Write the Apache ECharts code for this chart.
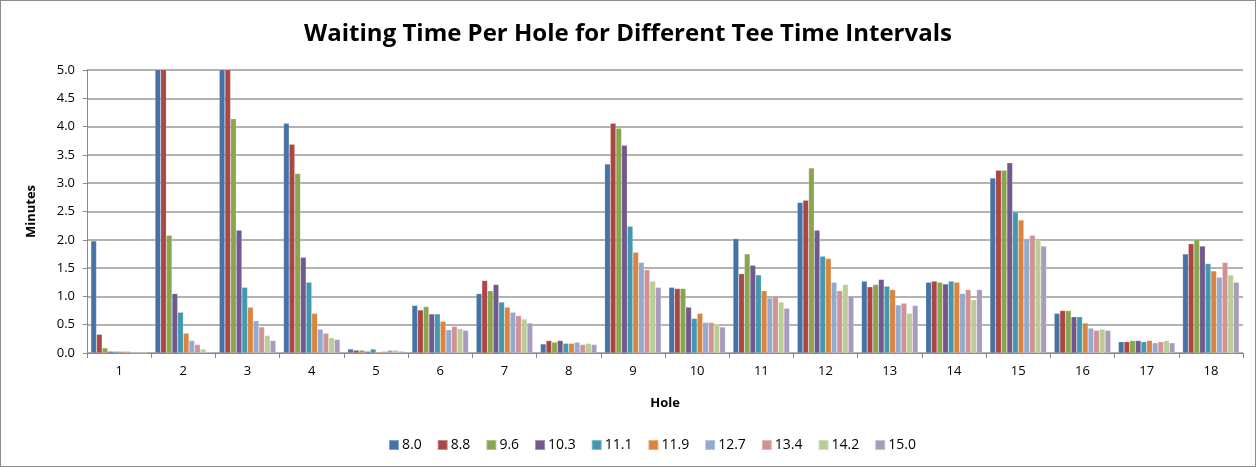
<!DOCTYPE html>
<html>
<head>
<meta charset="utf-8">
<script src="https://cdn.jsdelivr.net/npm/echarts@6/dist/echarts.min.js"></script>
<style>
html,body{margin:0;padding:0;background:#fff;}
#frame{position:absolute;left:0;top:0;width:1254px;height:465px;border:1px solid #8c8c8c;}
#chart{width:1256px;height:467px;position:absolute;left:0;top:0;}
</style>
</head>
<body>
<div id="frame"></div>
<div id="chart"></div>
<script>
const holes = ['1','2','3','4','5','6','7','8','9','10','11','12','13','14','15','16','17','18'];
const seriesNames = ['8.0','8.8','9.6','10.3','11.1','11.9','12.7','13.4','14.2','15.0'];
const yTicks = ['0.0','0.5','1.0','1.5','2.0','2.5','3.0','3.5','4.0','4.5','5.0'];
// values per tee-time interval (minutes), one entry per hole
const s80  = [1.98, 6.50, 6.50, 4.06, 0.07, 0.84, 1.05, 0.16, 3.34, 1.16, 2.02, 2.66, 1.27, 1.25, 3.09, 0.70, 0.20, 1.75];
const s88  = [0.33, 6.50, 6.50, 3.69, 0.05, 0.76, 1.28, 0.22, 4.06, 1.14, 1.40, 2.70, 1.17, 1.27, 3.23, 0.75, 0.20, 1.93];
const s96  = [0.09, 2.08, 4.14, 3.17, 0.05, 0.82, 1.10, 0.19, 3.97, 1.14, 1.75, 3.27, 1.21, 1.25, 3.23, 0.75, 0.22, 2.01];
const s103 = [0.03, 1.05, 2.17, 1.69, 0.03, 0.69, 1.21, 0.22, 3.67, 0.81, 1.55, 2.17, 1.30, 1.22, 3.36, 0.64, 0.22, 1.89];
const s111 = [0.03, 0.72, 1.16, 1.25, 0.07, 0.69, 0.90, 0.17, 2.24, 0.61, 1.38, 1.71, 1.18, 1.27, 2.49, 0.64, 0.20, 1.58];
const s119 = [0.03, 0.35, 0.81, 0.70, 0.02, 0.56, 0.81, 0.17, 1.78, 0.70, 1.10, 1.67, 1.12, 1.25, 2.35, 0.53, 0.22, 1.45];
const s127 = [0.03, 0.22, 0.57, 0.42, 0.03, 0.41, 0.72, 0.19, 1.60, 0.54, 0.97, 1.25, 0.85, 1.05, 2.02, 0.44, 0.18, 1.34];
const s134 = [0.00, 0.15, 0.46, 0.35, 0.05, 0.47, 0.66, 0.15, 1.47, 0.54, 1.01, 1.10, 0.88, 1.12, 2.08, 0.40, 0.20, 1.60];
const s142 = [0.00, 0.07, 0.31, 0.27, 0.05, 0.43, 0.60, 0.17, 1.27, 0.51, 0.90, 1.21, 0.70, 0.94, 2.00, 0.42, 0.22, 1.38];
const s150 = [0.00, 0.02, 0.22, 0.24, 0.03, 0.40, 0.53, 0.15, 1.16, 0.46, 0.79, 1.01, 0.84, 1.12, 1.89, 0.40, 0.18, 1.25];
const allValues = [s80, s88, s96, s103, s111, s119, s127, s134, s142, s150];
const colors = ['#4572A7','#AA4643','#89A54E','#71588F','#4198AF','#DB843D','#93A9CF','#D19392','#B9CD96','#A99BBD'];

const chart = echarts.init(document.getElementById('chart'), null, {renderer:'canvas'});
const font = 'Open Sans, Liberation Sans, sans-serif';
chart.setOption({
  animation:false,
  backgroundColor:'transparent',
  color: colors,
  title:{
    text:'Waiting Time Per Hole for Different Tee Time Intervals',
    left:'center', top:17,
    textStyle:{fontFamily:font, fontSize:24, fontWeight:'bold', color:'#000'}
  },
  legend:{
    data: seriesNames,
    bottom:10, left:383,
    itemWidth:10, itemHeight:10, itemGap:15, icon:'rect',
    textStyle:{fontFamily:font, fontSize:14, color:'#000', padding:[0,0,0,-2]}
  },
  grid:{left:87, right:13, top:70, bottom:114, containLabel:false},
  xAxis:{
    type:'category', data:holes, name:'Hole', nameLocation:'middle', nameGap:44,
    nameTextStyle:{fontFamily:font, fontSize:13, fontWeight:'bold', color:'#000'},
    axisLine:{lineStyle:{color:'#888', width:1}},
    axisTick:{show:true, alignWithLabel:false, length:5, lineStyle:{color:'#888'}},
    axisLabel:{fontFamily:font, fontSize:13, color:'#000', margin:12},
  },
  yAxis:{
    type:'value', min:0, max:5, interval:0.5, name:'Minutes', nameLocation:'middle', nameGap:49,
    nameRotate:90,
    nameTextStyle:{fontFamily:font, fontSize:13, fontWeight:'bold', color:'#000'},
    axisLine:{show:true, lineStyle:{color:'#888', width:1}},
    axisTick:{show:true, length:4, lineStyle:{color:'#888'}},
    axisLabel:{fontFamily:font, fontSize:13, color:'#000', margin:12,
      formatter:(v)=> yTicks[Math.round(v/0.5)]},
    splitLine:{lineStyle:{color:'#999', width:1.5}}
  },
  series: seriesNames.map((n,i)=>({
    name:n, type:'bar', data: allValues[i], barGap:'0%', barCategoryGap:'12%', clip:true,
    itemStyle:{color:colors[i], borderColor:'rgba(255,255,255,0.35)', borderWidth:0.5}
  }))
});
</script>
</body>
</html>
